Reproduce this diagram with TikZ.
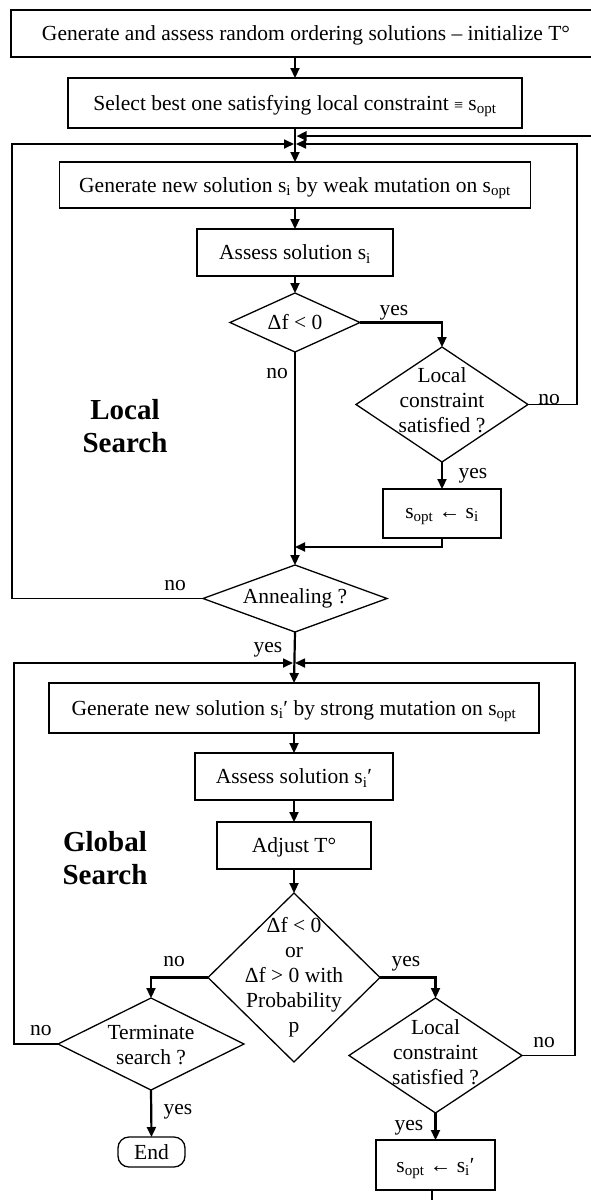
\documentclass[tikz,border=0pt]{standalone}
\usepackage{fontspec}
\setmainfont{Liberation Serif}
\usetikzlibrary{arrows.meta,shapes.geometric}
\begin{document}
\begin{tikzpicture}[x=1pt,y=-1pt,
  every node/.style={font=\fontsize{21.5}{25}\selectfont, inner sep=0pt, outer sep=0pt},
  box/.style={draw, line width=1.3pt, rectangle, align=center, text depth=0pt},
  dec/.style={draw, line width=1.3pt, diamond},
  arr/.style={line width=2.2pt, -{Triangle[length=10pt,width=9pt]}},
  loop/.style={line width=1.7pt, -{Triangle[length=10pt,width=9pt]}},
  plain/.style={line width=2.2pt},
  lbl/.style={anchor=base},
  region/.style={font=\fontsize{29}{33}\selectfont\bfseries, align=center},
  dtext/.style={align=center},
]
\useasboundingbox (0,0) rectangle (591,1200);

% ---------- start ----------
\node[box, minimum width=590pt, minimum height=47pt] (init) at (306,33.5)
  {Generate and assess random ordering solutions – initialize T°};
\node[box, minimum width=454pt, minimum height=50pt] (best) at (295,103)
  {Select best one satisfying local constraint {\fontsize{16}{16}\selectfont ≡} s\textsubscript{opt}};

% ---------- local search ----------
\node[box, minimum width=471pt, minimum height=46pt] (weak) at (295,185)
  {Generate new solution s\textsubscript{i} by weak mutation on s\textsubscript{opt}};
\node[box, minimum width=196pt, minimum height=47pt] (assess) at (295,252.5)
  {Assess solution s\textsubscript{i}};
\node[dec, minimum width=130pt, minimum height=59pt,
  label={[dtext]center:Δf < 0}] (df) at (295,322.5) {};
\node[dec, minimum width=172pt, minimum height=115pt,
  label={[dtext,yshift=4pt]center:Local\\constraint\\satisfied ?}] (lc) at (442,404.5) {};
\node[box, minimum width=118pt, minimum height=49pt] (upd) at (442,513.5)
  {s\textsubscript{opt} ← s\textsubscript{i}};
\node[dec, minimum width=184pt, minimum height=67pt,
  label={[dtext]center:Annealing ?}] (ann) at (295,598.5) {};
\node[region] (lsname) at (125,426.5) {Local\\Search};

% ---------- global search ----------
\node[box, minimum width=490pt, minimum height=50pt] (strong) at (294,708)
  {Generate new solution s\textsubscript{i}′ by strong mutation on s\textsubscript{opt}};
\node[box, minimum width=198pt, minimum height=47pt] (assess2) at (294,776.5)
  {Assess solution s\textsubscript{i}′};
\node[box, minimum width=154pt, minimum height=47pt] (adj) at (294,845.5)
  {Adjust T°};
\node[dec, minimum width=172pt, minimum height=169pt,
  label={[dtext]center:Δf < 0\\or\\Δf > 0 with\\Probability\\p}] (acc) at (294,977.5) {};
\node[dec, minimum width=186pt, minimum height=92pt,
  label={[dtext,yshift=-1pt]center:Terminate\\search ?}] (term) at (151,1044) {};
\node[dec, minimum width=173pt, minimum height=115pt,
  label={[dtext,yshift=3pt]center:Local\\constraint\\satisfied ?}] (lc2) at (435.5,1055.5) {};
\node[draw, line width=1.3pt, rounded corners=11pt, minimum width=67pt, minimum height=30pt] (end) at (151.5,1152) {End};
\node[box, minimum width=119pt, minimum height=50pt] (upd2) at (435.5,1165)
  {s\textsubscript{opt} ← s\textsubscript{i}′};
\node[region] (gsname) at (105,858) {Global\\Search};

% ---------- junction points and loop corners ----------
\coordinate (feed) at (600,136);
\coordinate (feedin) at (296.5,136);
\coordinate (j1l) at (294,144);
\coordinate (j1r) at (296,144);
\coordinate (lsL) at (12,598.5);
\coordinate (lsR) at (577,404.5);
\coordinate (merge) at (295,547);
\coordinate (j2l) at (293,663);
\coordinate (j2r) at (295,663);
\coordinate (gsL) at (14,1044);
\coordinate (gsR) at (575,1055.5);
\coordinate (out) at (432,1210);

% ---------- main flow ----------
\draw[arr] (init.south -| best.north) -- (best.north);
\draw[arr] (best.south) -- (weak.north);
\draw[arr, line width=2.4pt] (feed) -- (feedin);
\draw[arr] (weak.south) -- (assess.north);
\draw[arr] (assess.south) -- (df.north);
\draw[arr] (df.east) -| (lc.north);
\draw[arr] (lc.south) -- (upd.north);
\draw[arr] (upd.south) |- (merge);
\draw[arr] (df.south) -- (ann.north);
\draw[loop] (ann.west) -- (lsL) |- (j1l);
\draw[loop] (lc.east) -- (lsR) |- (j1r);

\draw[arr] (ann.south) -- (strong.north);
\draw[arr] (strong.south) -- (assess2.north);
\draw[arr] (assess2.south) -- (adj.north);
\draw[arr] (adj.south) -- (acc.north);
\draw[arr] (acc.west) -| (term.north);
\draw[arr] (acc.east) -| (lc2.north);
\draw[arr] (term.south) -- (end.north);
\draw[arr] (lc2.south) -- (upd2.north);
\draw[loop] (term.west) -- (gsL) |- (j2l);
\draw[loop] (lc2.east) -- (gsR) |- (j2r);
\draw[plain] (upd2.south -| out) -- (out);

% ---------- branch labels ----------
\node[lbl] at (394,315) {yes};
\node[lbl] at (277,378) {no};
\node[lbl] at (549,404) {no};
\node[lbl] at (473,478) {yes};
\node[lbl] at (175,590) {no};
\node[lbl] at (268,652) {yes};
\node[lbl] at (174,966) {no};
\node[lbl] at (406,966) {yes};
\node[lbl] at (41,1035) {no};
\node[lbl] at (544,1047) {no};
\node[lbl] at (178,1114) {yes};
\node[lbl] at (409,1130) {yes};
\end{tikzpicture}
\end{document}
